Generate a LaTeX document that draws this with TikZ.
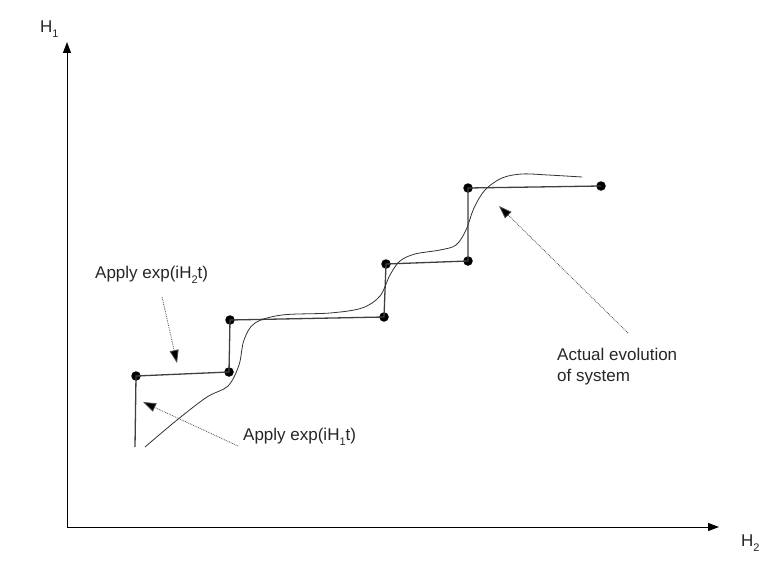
\documentclass[tikz,border=0pt]{standalone}
\usepackage{fontspec}
\setmainfont{Liberation Sans}
\usetikzlibrary{arrows.meta}
\newcommand{\lowsub}[1]{\raisebox{-0.5ex}{\fontsize{11}{11}\selectfont #1}}
\begin{document}
\begin{tikzpicture}[x=1pt,y=-1pt,
  axis/.style={line width=1pt,-{Triangle[length=11pt,width=8pt]}},
  stair/.style={line width=1.3pt,draw=black!75},
  dotnode/.style={circle,fill=black,inner sep=0pt,minimum size=9.5pt},
  hint/.style={densely dotted,line width=0.8pt,draw=black!70,-{Triangle[length=13pt,width=9pt,fill=black]}},
  lbl/.style={font=\fontsize{17}{20.5}\selectfont,inner sep=0pt,text=black!85},
  axlbl/.style={font=\fontsize{17}{20}\selectfont,inner sep=0pt,text=black!85}]
\useasboundingbox (0,0) rectangle (781,586);
% axes
\coordinate (o) at (67,527);
\coordinate (ytip) at (67,42);
\coordinate (xtip) at (719,527);
\draw[axis] (o) -- (ytip);
\draw[axis] (o) -- (xtip);
\node[axlbl,anchor=west] (h1) at (40,29) {H\lowsub{1}};
\node[axlbl,anchor=west] (h2) at (741,543) {H\lowsub{2}};
% staircase
\coordinate (s0) at (135,447);
\node[dotnode] (d1) at (136,376) {};
\node[dotnode] (d2) at (229,372) {};
\node[dotnode] (d3) at (230,320) {};
\node[dotnode] (d4) at (384,317) {};
\node[dotnode] (d5) at (386,264) {};
\node[dotnode] (d6) at (468,261) {};
\node[dotnode] (d7) at (468,188) {};
\node[dotnode] (d8) at (601,186) {};
\draw[stair] (s0) -- (d1.center) -- (d2.center) -- (d3.center) -- (d4.center) -- (d5.center) -- (d6.center) -- (d7.center) -- (d8.center);
% actual evolution curve
\draw[line width=0.8pt,black!80] plot[smooth,tension=0.55] coordinates {
 (145,447) (177,420) (207,397) (228,386) (239,365) (244,340) (255,323) (282,315)
 (330,313) (362,308) (380,296) (390,275) (400,261) (415,254) (440,250) (456,245)
 (466,230) (474,208) (485,190) (502,178) (522,174) (548,175) (582,177)};
% labels
\node[lbl,anchor=west] (la) at (95,275) {Apply exp(iH\lowsub{2}t)};
\node[lbl,anchor=west] (lb) at (243,437) {Apply exp(iH\lowsub{1}t)};
\node[lbl,anchor=north west,align=left] (lc) at (557,348) {Actual evolution\\of system};
% hint arrows
\coordinate (ta0) at (162,297);
\coordinate (ta1) at (177,363);
\coordinate (tb0) at (238,446);
\coordinate (tb1) at (143,402);
\coordinate (tc0) at (628,333);
\coordinate (tc1) at (499,206);
\draw[hint] (ta0) -- (ta1);
\draw[hint] (tb0) -- (tb1);
\draw[hint] (tc0) -- (tc1);
\end{tikzpicture}
\end{document}
